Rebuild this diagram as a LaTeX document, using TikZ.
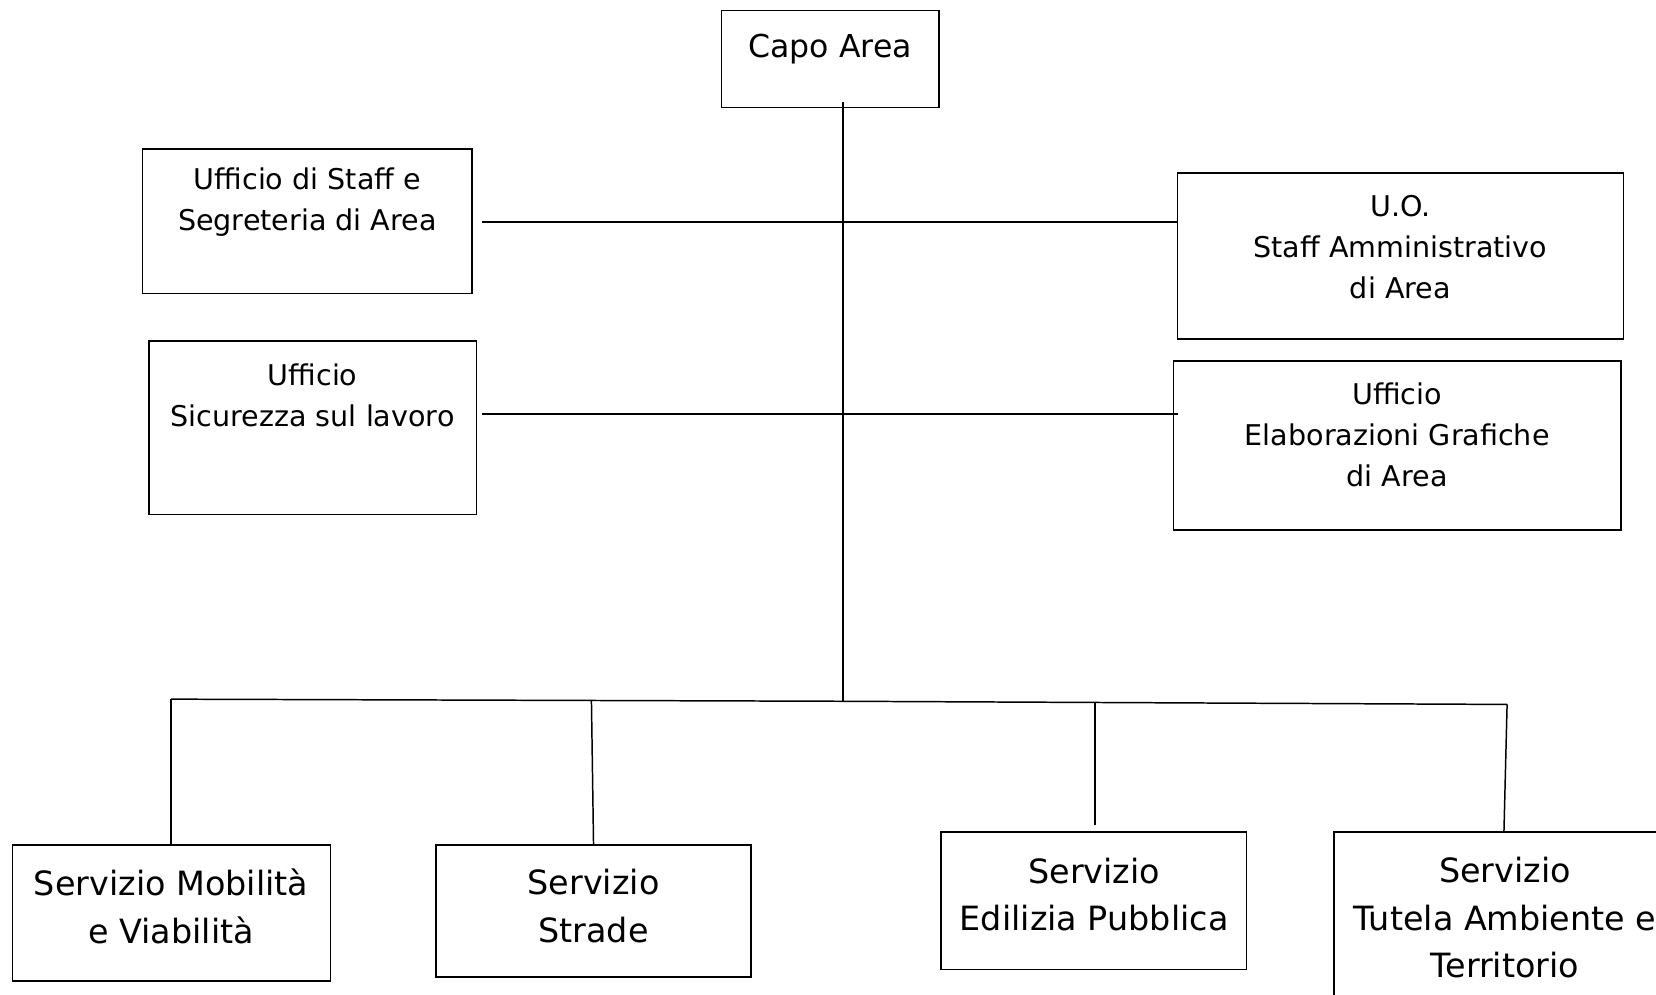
\documentclass[tikz,border=0pt]{standalone}
\usepackage{fontspec}
\setmainfont{DejaVu Sans}
\usetikzlibrary{fit}
\begin{document}
\begin{tikzpicture}[x=0.02cm,y=-0.02cm,
  box/.style={draw, line width=0.8pt, inner sep=0pt},
  ln/.style={line width=0.8pt},
  small/.style={align=center, inner sep=0pt, font=\fontsize{15.4}{22.2}\selectfont},
  big/.style={align=center, inner sep=0pt, font=\fontsize{18}{25.6}\selectfont},
  head/.style={align=center, inner sep=0pt, font=\fontsize{17}{25.6}\selectfont}]
\useasboundingbox (0,0) rectangle (1568,942);
% boxes
\node[box, fit={(683,10) (889,102)}] (capo) {};
\node[box, fit={(135,141) (447,278)}] (staff) {};
\node[box, fit={(141,323) (451,487)}] (sic) {};
\node[box, fit={(1115,164) (1537,321)}] (uo) {};
\node[box, fit={(1111,342) (1535,502)}] (elab) {};
\node[box, fit={(12,800) (313,929)}] (mob) {};
\node[box, fit={(413,800) (711,925)}] (strade) {};
\node[box, fit={(891,788) (1180,918)}] (edil) {};
\node[box, fit={(1263,788) (1600,970)}] (tutela) {};
% labels
\node[head] (capot) at (786,46) {Capo Area};
\node[small] (stafft) at (291,191.5) {Ufficio di Staff e\\Segreteria di Area};
\node[small] (sict) at (296,374) {Ufficio\\Sicurezza sul lavoro};
\node[small] (uot) at (1326,234) {U.O.\\Staff Amministrativo\\di Area};
\node[small] (elabt) at (1323,412) {Ufficio\\Elaborazioni Grafiche\\di Area};
\node[big] (mobt) at (162,858) {Servizio Mobilità\\e Viabilità};
\node[big] (stradet) at (562,858) {Servizio\\Strade};
\node[big] (edilt) at (1036,847) {Servizio\\Edilizia Pubblica};
\node[big] (tutelat) at (1425,869) {Servizio\\Tutela Ambiente e\\Territorio};
% connector points
\coordinate (top) at (798,97);
\coordinate (hub) at (798,664);
\coordinate (r1l) at (456,210);
\coordinate (r1r) at (1115,210);
\coordinate (r2l) at (456,392);
\coordinate (r2r) at (1115,392);
\coordinate (b1) at (162,662);
\coordinate (b2) at (560,663);
\coordinate (b3) at (1037,665);
\coordinate (b4) at (1427,667);
\coordinate (e3) at (1037,781);
% connectors
\draw[ln] (top) -- (hub);
\draw[ln] (r1l) -- (r1r);
\draw[ln] (r2l) -- (r2r);
\draw[ln] (b1) -- (hub) -- (b4);
\draw[ln] (b1) -- (b1 |- mob.north);
\draw[ln] (b2) -- (562,800);
\draw[ln] (b3) -- (e3);
\draw[ln] (b4) -- (1424,788);
\end{tikzpicture}
\end{document}
